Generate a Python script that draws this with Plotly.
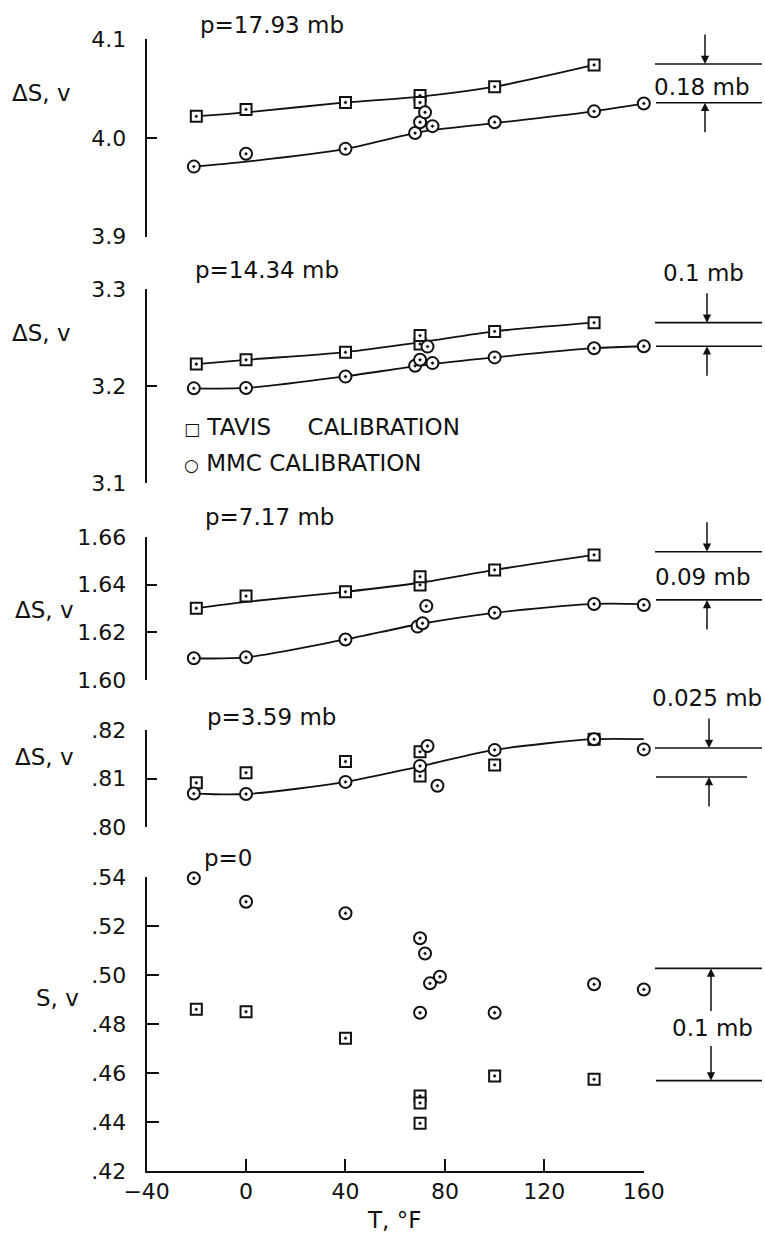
import plotly.graph_objects as go

W, H = 765, 1235

# ---------------- data ----------------
titles = ["p=17.93 mb", "p=14.34 mb", "p=7.17 mb", "p=3.59 mb", "p=0"]
ytitles = ["ΔS, v", "ΔS, v", "ΔS, v", "ΔS, v", "S, v"]
x_ticks = [-40, 0, 40, 80, 120, 160]
x_ticktext = ["−40", "0", "40", "80", "120", "160"]

y_ticks = [
    [3.9, 4.0, 4.1],
    [3.1, 3.2, 3.3],
    [1.60, 1.62, 1.64, 1.66],
    [0.80, 0.81, 0.82],
    [0.42, 0.44, 0.46, 0.48, 0.50, 0.52, 0.54],
]
y_ticktext = [
    ["3.9", "4.0", "4.1"],
    ["3.1", "3.2", "3.3"],
    ["1.60", "1.62", "1.64", "1.66"],
    [".80", ".81", ".82"],
    [".42", ".44", ".46", ".48", ".50", ".52", ".54"],
]

# TAVIS calibration points (squares)
tavis_T_1 = [-20, 0, 40, 70, 70, 100, 140]
tavis_V_1 = [4.022, 4.029, 4.036, 4.043, 4.036, 4.052, 4.074]
tavis_T_2 = [-20, 0, 40, 70, 70, 100, 140]
tavis_V_2 = [3.2226, 3.227, 3.2347, 3.2434, 3.252, 3.2563, 3.2653]
tavis_T_3 = [-20, 0, 40, 70, 70, 100, 140]
tavis_V_3 = [1.6301, 1.6352, 1.637, 1.6399, 1.6433, 1.6462, 1.6525]
tavis_T_4 = [-20, 0, 40, 70, 70, 100, 140]
tavis_V_4 = [0.8091, 0.8112, 0.8135, 0.8155, 0.8105, 0.8128, 0.8181]
tavis_T_5 = [-20, 0, 40, 70, 70, 70, 100, 140]
tavis_V_5 = [0.486, 0.485, 0.4742, 0.4506, 0.4478, 0.4395, 0.4588, 0.4574]

# MMC calibration points (circles)
mmc_T_1 = [-21, 0, 40, 68, 70, 72, 75, 100, 140, 160]
mmc_V_1 = [3.971, 3.984, 3.989, 4.005, 4.016, 4.026, 4.012, 4.016, 4.027, 4.035]
mmc_T_2 = [-21, 0, 40, 68, 70, 73, 75, 100, 140, 160]
mmc_V_2 = [3.1976, 3.198, 3.2097, 3.2208, 3.227, 3.2406, 3.2236, 3.2295, 3.2389, 3.241]
mmc_T_3 = [-21, 0, 40, 69, 71, 72.5, 100, 140, 160]
mmc_V_3 = [1.6091, 1.6095, 1.617, 1.6224, 1.6238, 1.631, 1.6282, 1.6319, 1.6315]
mmc_T_4 = [-21, 0, 40, 70, 73, 77, 100, 140, 160]
mmc_V_4 = [0.8069, 0.8068, 0.8093, 0.8126, 0.8167, 0.8085, 0.8159, 0.8181, 0.816]
mmc_T_5 = [-21, 0, 40, 70, 72, 74, 78, 70, 100, 140, 160]
mmc_V_5 = [0.5395, 0.5299, 0.5252, 0.515, 0.5088, 0.4966, 0.4993, 0.4846, 0.4846, 0.4962, 0.4941]

# hand-drawn fairing curves
curve_tavis_T_1 = [-20, 0, 40, 70, 100, 140]
curve_tavis_V_1 = [4.022, 4.026, 4.036, 4.042, 4.052, 4.074]
curve_mmc_T_1 = [-21, 0, 40, 70, 100, 140, 160]
curve_mmc_V_1 = [3.971, 3.976, 3.989, 4.006, 4.015, 4.027, 4.035]
curve_tavis_T_2 = [-20, 0, 40, 70, 100, 140]
curve_tavis_V_2 = [3.2226, 3.227, 3.235, 3.245, 3.2563, 3.2653]
curve_mmc_T_2 = [-21, 0, 40, 70, 100, 140, 160]
curve_mmc_V_2 = [3.1976, 3.198, 3.21, 3.221, 3.2295, 3.239, 3.241]
curve_tavis_T_3 = [-20, 0, 40, 70, 100, 140]
curve_tavis_V_3 = [1.6301, 1.6328, 1.637, 1.6408, 1.6462, 1.6525]
curve_mmc_T_3 = [-21, 0, 40, 70, 100, 140, 160]
curve_mmc_V_3 = [1.6091, 1.6095, 1.617, 1.6235, 1.6282, 1.6319, 1.6318]
curve_mmc_T_4 = [-21, 0, 40, 70, 100, 140, 161]
curve_mmc_V_4 = [0.8069, 0.8068, 0.8093, 0.8125, 0.8159, 0.8181, 0.8181]

# reference levels for the dimension marks on the right
gap_labels = ["0.18 mb", "0.1 mb", "0.09 mb", "0.025 mb", "0.1 mb"]
gap_top = [4.075, 3.2653, 1.6538, 0.8163, 0.5027]
gap_bottom = [4.0357, 3.241, 1.6336, 0.8103, 0.4569]

# ---------------- layout geometry (pixels) ----------------
X_LEFT, X_RIGHT = 146.6, 643.8
P_TOP = [39.3, 289, 537, 730, 877]
P_BOT = [236.7, 483, 680, 827, 1171]

def fx(px):
    return px / W

def fy(py):
    return 1 - py / H

FONT = "DejaVu Sans"
BLACK = "#111111"

tavis_T = [tavis_T_1, tavis_T_2, tavis_T_3, tavis_T_4, tavis_T_5]
tavis_V = [tavis_V_1, tavis_V_2, tavis_V_3, tavis_V_4, tavis_V_5]
mmc_T = [mmc_T_1, mmc_T_2, mmc_T_3, mmc_T_4, mmc_T_5]
mmc_V = [mmc_V_1, mmc_V_2, mmc_V_3, mmc_V_4, mmc_V_5]
curves = [
    [(curve_tavis_T_1, curve_tavis_V_1), (curve_mmc_T_1, curve_mmc_V_1)],
    [(curve_tavis_T_2, curve_tavis_V_2), (curve_mmc_T_2, curve_mmc_V_2)],
    [(curve_tavis_T_3, curve_tavis_V_3), (curve_mmc_T_3, curve_mmc_V_3)],
    [(curve_mmc_T_4, curve_mmc_V_4)],
    [],
]

fig = go.Figure()

for i in range(5):
    n = "" if i == 0 else str(i + 1)
    xa, ya = "x" + n, "y" + n
    for ct, cv in curves[i]:
        fig.add_trace(go.Scatter(
            x=ct, y=cv, xaxis=xa, yaxis=ya, mode="lines",
            line=dict(color=BLACK, width=1.8, shape="spline", smoothing=0.8),
            hoverinfo="skip", showlegend=False, cliponaxis=False))
    fig.add_trace(go.Scatter(
        x=tavis_T[i], y=tavis_V[i], xaxis=xa, yaxis=ya, mode="markers",
        name="TAVIS CALIBRATION", showlegend=False, cliponaxis=False,
        marker=dict(symbol="square-dot", size=11, color="white",
                    line=dict(color=BLACK, width=2))))
    fig.add_trace(go.Scatter(
        x=mmc_T[i], y=mmc_V[i], xaxis=xa, yaxis=ya, mode="markers",
        name="MMC CALIBRATION", showlegend=False, cliponaxis=False,
        marker=dict(symbol="circle-dot", size=12, color="white",
                    line=dict(color=BLACK, width=2))))

layout = dict(
    width=W, height=H, margin=dict(l=0, r=0, t=0, b=0),
    paper_bgcolor="white", plot_bgcolor="white",
    font=dict(family=FONT, color=BLACK, size=22),
    showlegend=False, template="none",
)

for i in range(5):
    n = "" if i == 0 else str(i + 1)
    last = (i == 4)
    ylo, yhi = y_ticks[i][0], y_ticks[i][-1]
    layout["xaxis" + n] = dict(
        domain=[fx(X_LEFT), fx(X_RIGHT)], range=[-40, 160],
        anchor="y" + n, visible=last, showgrid=False, zeroline=False,
        showline=last, linecolor=BLACK, linewidth=2,
        ticks="inside" if last else "", ticklen=12, tickwidth=2, tickcolor=BLACK,
        tickvals=x_ticks, ticktext=x_ticktext, tickfont=dict(size=22),
        automargin=False,
    )
    layout["yaxis" + n] = dict(
        domain=[fy(P_BOT[i]), fy(P_TOP[i])], range=[ylo, yhi],
        anchor="x" + n, showgrid=False, zeroline=False,
        showline=True, linecolor=BLACK, linewidth=2,
        ticks="inside", ticklen=12 if last else 10, tickwidth=2, tickcolor=BLACK,
        tickvals=y_ticks[i], ticktext=y_ticktext[i], tickfont=dict(size=22),
        ticklabelstandoff=14, automargin=False,
    )

annotations = []
shapes = []

title_pos = [(198, 25), (193, 270), (203, 517), (205, 717), (202, 858)]
ytitle_pos = [(41, 93), (41, 333), (44, 610), (44, 757), (58, 998)]
gap_text_pos = [(702, 87), (703, 273), (703, 577), (707, 698), (712, 1028)]
arrow_x = [705, 707, 707, 709, 711]

for i in range(5):
    n = "" if i == 0 else str(i + 1)
    yref = "y" + n
    tx, ty = title_pos[i]
    annotations.append(dict(text=titles[i], x=fx(tx), y=fy(ty), xref="paper", yref="paper",
                            xanchor="left", yanchor="middle", showarrow=False,
                            font=dict(size=23)))
    ax_, ay_ = ytitle_pos[i]
    annotations.append(dict(text=ytitles[i], x=fx(ax_), y=fy(ay_), xref="paper", yref="paper",
                            xanchor="center", yanchor="middle", showarrow=False,
                            font=dict(size=23)))
    gx, gy = gap_text_pos[i]
    annotations.append(dict(text=gap_labels[i], x=fx(gx), y=fy(gy), xref="paper", yref="paper",
                            xanchor="center", yanchor="middle", showarrow=False,
                            font=dict(size=23)))
    # reference lines
    for yv, (x0, x1) in ((gap_top[i], (655, 762)), (gap_bottom[i], (656, 762 if i != 3 else 747))):
        shapes.append(dict(type="line", xref="paper", yref=yref, x0=fx(x0), x1=fx(x1),
                           y0=yv, y1=yv, line=dict(color=BLACK, width=1.6)))
    # arrows
    if i < 4:
        annotations.append(dict(text="", x=fx(arrow_x[i]), y=gap_top[i], xref="paper", yref=yref,
                                showarrow=True, ax=0, ay=-31, arrowhead=2, arrowsize=1.1,
                                arrowwidth=1.5, arrowcolor=BLACK, standoff=0))
        annotations.append(dict(text="", x=fx(arrow_x[i]), y=gap_bottom[i], xref="paper", yref=yref,
                                showarrow=True, ax=0, ay=31, arrowhead=2, arrowsize=1.1,
                                arrowwidth=1.5, arrowcolor=BLACK, standoff=0))
    else:
        annotations.append(dict(text="", x=fx(arrow_x[i]), y=gap_top[i], xref="paper", yref=yref,
                                showarrow=True, ax=0, ay=44, arrowhead=2, arrowsize=1.1,
                                arrowwidth=1.5, arrowcolor=BLACK, standoff=0))
        annotations.append(dict(text="", x=fx(arrow_x[i]), y=gap_bottom[i], xref="paper", yref=yref,
                                showarrow=True, ax=0, ay=-36, arrowhead=2, arrowsize=1.1,
                                arrowwidth=1.5, arrowcolor=BLACK, standoff=0))

# legend text
annotations.append(dict(
    text="<span style='font-size:17px'>□</span> TAVIS\u00a0\u00a0\u00a0\u00a0 CALIBRATION",
    x=fx(182), y=fy(427), xref="paper", yref="paper", xanchor="left", yanchor="middle",
    showarrow=False, font=dict(size=23)))
annotations.append(dict(
    text="<span style='font-size:17px'>○</span> MMC CALIBRATION",
    x=fx(182), y=fy(463), xref="paper", yref="paper", xanchor="left", yanchor="middle",
    showarrow=False, font=dict(size=23)))

# x-axis title
annotations.append(dict(text="T, °F", x=fx(394), y=fy(1220), xref="paper", yref="paper",
                        xanchor="center", yanchor="middle", showarrow=False,
                        font=dict(size=23)))

layout["annotations"] = annotations
layout["shapes"] = shapes
fig.update_layout(**layout)

fig.write_html("out.html")
